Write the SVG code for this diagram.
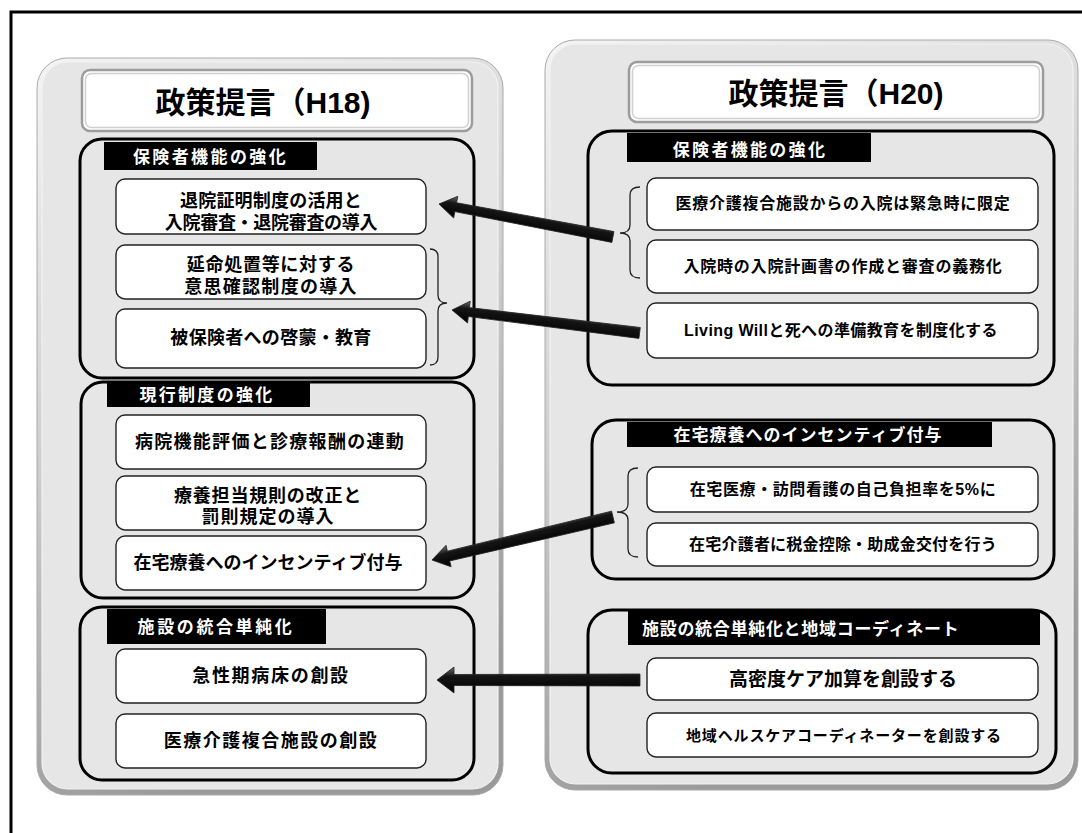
<svg xmlns="http://www.w3.org/2000/svg" width="1082" height="833" viewBox="0 0 1082 833">
<defs>
<style>
.t{font-family:"Liberation Sans","Noto Sans CJK JP",sans-serif;font-weight:bold;fill:#000;text-anchor:middle}
.hd{font-size:30px}
.tab{fill:#000}
.tt{font-family:"Liberation Sans","Noto Sans CJK JP",sans-serif;font-weight:bold;fill:#fff;font-size:17px}
.grp{fill:none;stroke:#000;stroke-width:3}
.item{fill:#fff;stroke:#222;stroke-width:1.4}
.li{font-size:18px}
.ri{font-size:16px}
.brace{fill:none;stroke:#222;stroke-width:1.3}
.arrow{fill:url(#ag);stroke:#222;stroke-width:0.8}
</style>
<linearGradient id="bev" x1="0" y1="0" x2="0.3" y2="1">
<stop offset="0" stop-color="#f4f4f4"/>
<stop offset="0.5" stop-color="#cfcfcf"/>
<stop offset="1" stop-color="#9a9a9a"/>
</linearGradient>
<linearGradient id="ag" x1="0" y1="0" x2="0" y2="1">
<stop offset="0" stop-color="#707070"/>
<stop offset="0.35" stop-color="#151515"/>
<stop offset="1" stop-color="#000"/>
</linearGradient>
</defs>
<rect width="1082" height="833" fill="#fff"/>
<rect id="frame" x="11" y="12" width="1100" height="900" fill="none" stroke="#000" stroke-width="3"/>

<g id="panel-left">
<rect x="37" y="58" width="466" height="737" rx="30" fill="url(#bev)" stroke="#aaa" stroke-width="1"/>
<rect x="42" y="62" width="456" height="727" rx="26" fill="#e6e6e6" stroke="#f2f2f2" stroke-width="1.2"/>
</g>
<g id="panel-right">
<rect x="545" y="40" width="533" height="750" rx="30" fill="url(#bev)" stroke="#aaa" stroke-width="1"/>
<rect x="550" y="44" width="523" height="740" rx="26" fill="#e6e6e6" stroke="#f2f2f2" stroke-width="1.2"/>
</g>

<g id="header-h18">
<rect x="82" y="70" width="390" height="61" rx="8" fill="#fff" stroke="#9c9c9c" stroke-width="2.5"/>
<rect x="85.5" y="73.5" width="383" height="54" rx="6" fill="none" stroke="#d0d0d0" stroke-width="1.5"/>
<text class="t hd" x="263" y="113">政策提言（H18)</text>
</g>
<g id="header-h20">
<rect x="629" y="62" width="414" height="60" rx="8" fill="#fff" stroke="#9c9c9c" stroke-width="2.5"/>
<rect x="632.5" y="65.5" width="407" height="53" rx="6" fill="none" stroke="#d0d0d0" stroke-width="1.5"/>
<text class="t hd" x="836" y="104">政策提言（H20)</text>
</g>

<!-- Left groups -->
<g id="lg1">
<rect class="grp" x="80" y="139" width="394" height="239" rx="22"/>
<rect class="tab" x="104" y="142" width="213" height="28"/>
<text class="tt" x="210.5" y="163" text-anchor="middle" letter-spacing="2.4">保険者機能の強化</text>
</g>
<g id="l-item1">
<rect class="item" x="116" y="179" width="310" height="55" rx="9"/>
<text class="t li" x="271" y="207" letter-spacing="0.2">退院証明制度の活用と</text>
<text class="t li" x="271" y="229" letter-spacing="-0.3">入院審査・退院審査の導入</text>
</g>
<g id="l-item2">
<rect class="item" x="116" y="245" width="310" height="54" rx="9"/>
<text class="t li" x="271" y="271" letter-spacing="0.7">延命処置等に対する</text>
<text class="t li" x="271" y="293" letter-spacing="1.3">意思確認制度の導入</text>
</g>
<g id="l-item3">
<rect class="item" x="116" y="309" width="310" height="59" rx="9"/>
<text class="t li" x="271" y="344" letter-spacing="0.3">被保険者への啓蒙・教育</text>
</g>

<g id="lg2">
<rect class="grp" x="81" y="382" width="393" height="216" rx="22"/>
<rect class="tab" x="107" y="383" width="203" height="24"/>
<text class="tt" x="207" y="401" text-anchor="middle" letter-spacing="2.3">現行制度の強化</text>
</g>
<g id="l-item4">
<rect class="item" x="116" y="415" width="310" height="54" rx="9"/>
<text class="t li" x="270" y="448" letter-spacing="1.3">病院機能評価と診療報酬の連動</text>
</g>
<g id="l-item5">
<rect class="item" x="116" y="476" width="310" height="54" rx="9"/>
<text class="t li" x="268" y="502" letter-spacing="0.8">療養担当規則の改正と</text>
<text class="t li" x="268" y="523" letter-spacing="1">罰則規定の導入</text>
</g>
<g id="l-item6">
<rect class="item" x="116" y="536" width="310" height="54" rx="9"/>
<text class="t li" x="268" y="569" letter-spacing="0">在宅療養へのインセンティブ付与</text>
</g>

<g id="lg3">
<rect class="grp" x="80" y="607" width="394" height="173" rx="22"/>
<rect class="tab" x="107" y="609" width="219" height="35"/>
<text class="tt" x="216" y="633" text-anchor="middle" letter-spacing="2.6">施設の統合単純化</text>
</g>
<g id="l-item7">
<rect class="item" x="116" y="649" width="310" height="54" rx="9"/>
<text class="t li" x="271" y="682" letter-spacing="1.7">急性期病床の創設</text>
</g>
<g id="l-item8">
<rect class="item" x="116" y="714" width="310" height="54" rx="9"/>
<text class="t li" x="271" y="747" letter-spacing="1.5">医療介護複合施設の創設</text>
</g>

<!-- Right groups -->
<g id="rg1">
<rect class="grp" x="588" y="131" width="466" height="254" rx="24"/>
<rect class="tab" x="627" y="133" width="244" height="29"/>
<text class="tt" x="750" y="156" text-anchor="middle" letter-spacing="2.3">保険者機能の強化</text>
</g>
<g id="r-item1">
<rect class="item" x="647" y="178" width="391" height="52" rx="9"/>
<text class="t ri" x="843" y="209" letter-spacing="0.75">医療介護複合施設からの入院は緊急時に限定</text>
</g>
<g id="r-item2">
<rect class="item" x="647" y="240" width="391" height="53" rx="9"/>
<text class="t ri" x="843" y="272" letter-spacing="0.8">入院時の入院計画書の作成と審査の義務化</text>
</g>
<g id="r-item3">
<rect class="item" x="647" y="303" width="391" height="55" rx="9"/>
<text class="t ri" x="841" y="336" letter-spacing="0.4">Living Willと死への準備教育を制度化する</text>
</g>

<g id="rg2">
<rect class="grp" x="592" y="420" width="462" height="159" rx="24"/>
<rect class="tab" x="627" y="422" width="365" height="25"/>
<text class="tt" x="808" y="441" text-anchor="middle" letter-spacing="1">在宅療養へのインセンティブ付与</text>
</g>
<g id="r-item4">
<rect class="item" x="647" y="467" width="391" height="45" rx="9"/>
<text class="t ri" x="843" y="495" letter-spacing="0.6">在宅医療・訪問看護の自己負担率を5%に</text>
</g>
<g id="r-item5">
<rect class="item" x="647" y="523" width="391" height="43" rx="9"/>
<text class="t ri" x="843" y="550" letter-spacing="0.2">在宅介護者に税金控除・助成金交付を行う</text>
</g>

<g id="rg3">
<rect class="grp" x="588" y="610" width="468" height="163" rx="24"/>
<rect class="tab" x="628" y="611" width="412" height="34"/>
<text class="tt" x="642" y="635" letter-spacing="0.7">施設の統合単純化と地域コーディネート</text>
</g>
<g id="r-item6">
<rect class="item" x="647" y="658" width="391" height="42" rx="9"/>
<text class="t" x="843" y="686" font-size="19" letter-spacing="0">高密度ケア加算を創設する</text>
</g>
<g id="r-item7">
<rect class="item" x="647" y="713" width="391" height="44" rx="9"/>
<text class="t" x="844" y="741" font-size="15" letter-spacing="0.85">地域ヘルスケアコーディネーターを創設する</text>
</g>

<g id="braces">
<path class="brace" d="M430,249 Q438,249 438,257 L438,295 Q438,303 447,303 Q438,303 438,311 L438,357 Q438,365 430,365"/>
<path class="brace" d="M640,187 Q630,187 630,195 L630,225 Q630,233 620,233 Q630,233 630,241 L630,270 Q630,278 640,278"/>
<path class="brace" d="M638,468 Q628,468 628,476 L628,504 Q628,512 617,512 Q628,512 628,520 L628,549 Q628,557 638,557"/>
</g>

<g id="connectors">
<polygon class="arrow" transform="translate(439,204) rotate(10.74)" points="0,0 17,-11 17,-4.5 177,-5.5 177,5.5 17,4.5 17,11"/>
<polygon class="arrow" transform="translate(452,310) rotate(6.97)" points="0,0 17,-11 17,-4.5 189,-5.5 189,5.5 17,4.5 17,11"/>
<polygon class="arrow" transform="translate(432,560) rotate(-13.36)" points="0,0 17,-11 17,-5 186,-6 186,6 17,5 17,11"/>
<polygon class="arrow" transform="translate(437,680)" points="0,0 17,-13 17,-5.5 203,-6 203,6 17,5.5 17,13"/>
</g>
</svg>
